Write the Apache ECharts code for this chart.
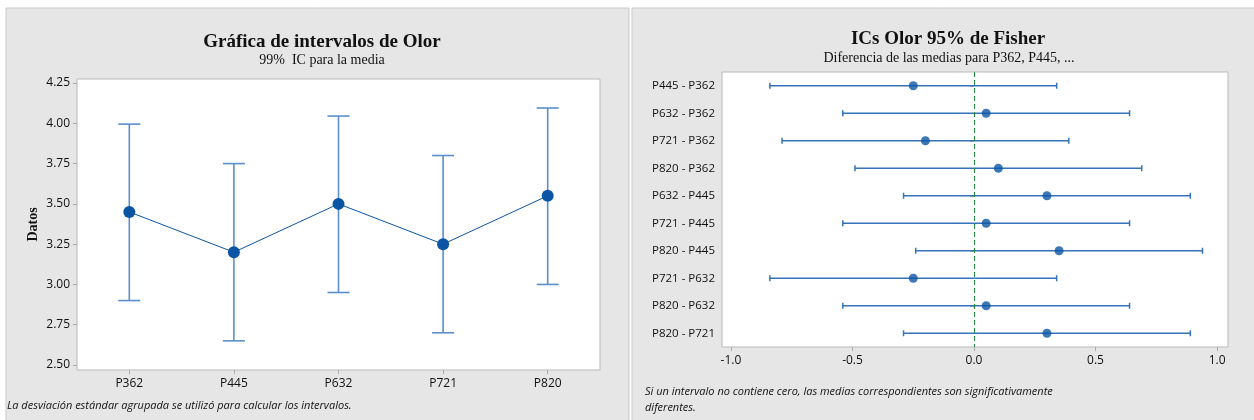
<!DOCTYPE html>
<html>
<head>
<meta charset="utf-8">
<script src="https://cdn.jsdelivr.net/npm/echarts@6/dist/echarts.min.js"></script>
<style>
  html, body { margin: 0; padding: 0; background: #ffffff; }
  #chart { width: 1254px; height: 420px; }
</style>
</head>
<body>
<div id="chart"></div>
<script>
// Interval plot: 99% CI for the mean of Olor by product
const products = ['P362', 'P445', 'P632', 'P721', 'P820'];
const means = [3.45, 3.20, 3.50, 3.25, 3.55];
const lowerCI = [2.90, 2.65, 2.95, 2.70, 3.00];
const upperCI = [3.995, 3.75, 4.045, 3.80, 4.095];
const meanTicks = [2.50, 2.75, 3.00, 3.25, 3.50, 3.75, 4.00, 4.25];

// Fisher 95% intervals for differences of means
const pairs = ['P445 - P362', 'P632 - P362', 'P721 - P362', 'P820 - P362', 'P632 - P445',
               'P721 - P445', 'P820 - P445', 'P721 - P632', 'P820 - P632', 'P820 - P721'];
const diffs = [-0.25, 0.05, -0.20, 0.10, 0.30, 0.05, 0.35, -0.25, 0.05, 0.30];
const diffLower = [-0.84, -0.54, -0.79, -0.49, -0.29, -0.54, -0.24, -0.84, -0.54, -0.29];
const diffUpper = [0.34, 0.64, 0.39, 0.69, 0.89, 0.64, 0.94, 0.34, 0.64, 0.89];
const diffTicks = [-1.0, -0.5, 0.0, 0.5, 1.0];

const sans = '"Open Sans", "Noto Sans", sans-serif';
const serif = '"Liberation Serif", "DejaVu Serif", serif';
const barColor = '#5b8fcb';
const markColor = '#0b55a4';
const diffColor = '#3473ba';

const chart = echarts.init(document.getElementById('chart'), null, { renderer: 'canvas' });

// vertical error bar with horizontal caps (left panel)
function vBar(params, api) {
  const x = api.value(0);
  const lo = api.coord([x, api.value(1)]);
  const hi = api.coord([x, api.value(2)]);
  const w = 11;
  const style = { stroke: barColor, lineWidth: 1.6 };
  return {
    type: 'group',
    children: [
      { type: 'line', shape: { x1: lo[0], y1: lo[1], x2: hi[0], y2: hi[1] }, style },
      { type: 'line', shape: { x1: lo[0] - w, y1: lo[1], x2: lo[0] + w, y2: lo[1] }, style },
      { type: 'line', shape: { x1: hi[0] - w, y1: hi[1], x2: hi[0] + w, y2: hi[1] }, style }
    ]
  };
}

// horizontal interval with small end ticks (right panel)
function hBar(params, api) {
  const y = api.value(0);
  const lo = api.coord([api.value(1), y]);
  const hi = api.coord([api.value(2), y]);
  const h = 3;
  const style = { stroke: diffColor, lineWidth: 1.5 };
  return {
    type: 'group',
    children: [
      { type: 'line', shape: { x1: lo[0], y1: lo[1], x2: hi[0], y2: hi[1] }, style },
      { type: 'line', shape: { x1: lo[0], y1: lo[1] - h, x2: lo[0], y2: lo[1] + h }, style },
      { type: 'line', shape: { x1: hi[0], y1: hi[1] - h, x2: hi[0], y2: hi[1] + h }, style }
    ]
  };
}

const axisLabelStyle = { color: '#111', fontFamily: sans, fontSize: 12 };

const option = {
  animation: false,
  backgroundColor: '#ffffff',
  title: [
    { text: 'Gráfica de intervalos de Olor', left: 317, top: 28, textAlign: 'center',
      textStyle: { fontFamily: serif, fontWeight: 'bold', fontSize: 19, color: '#111' } },
    { text: '99%  IC para la media', left: 317, top: 48, textAlign: 'center',
      textStyle: { fontFamily: serif, fontWeight: 'normal', fontSize: 14, color: '#111' } },
    { text: 'ICs Olor 95% de Fisher', left: 943, top: 25, textAlign: 'center',
      textStyle: { fontFamily: serif, fontWeight: 'bold', fontSize: 19, color: '#111' } },
    { text: 'Diferencia de las medias para P362, P445, ...', left: 944, top: 46, textAlign: 'center',
      textStyle: { fontFamily: serif, fontWeight: 'normal', fontSize: 14, color: '#111' } }
  ],
  graphic: [
    { type: 'rect', z: -100, shape: { x: 6, y: 8, width: 623, height: 420 },
      style: { fill: '#e6e6e6', stroke: '#c9c9c9', lineWidth: 1 } },
    { type: 'rect', z: -100, shape: { x: 632, y: 8, width: 630, height: 420 },
      style: { fill: '#e6e6e6', stroke: '#c9c9c9', lineWidth: 1 } },
    { type: 'text', left: 7, top: 400,
      style: { text: 'La desviación estándar agrupada se utilizó para calcular los intervalos.',
               fill: '#111', font: 'italic 11px ' + sans } },
    { type: 'text', left: 645, top: 386,
      style: { text: 'Si un intervalo no contiene cero, las medias correspondientes son significativamente',
               fill: '#111', font: 'italic 11px ' + sans } },
    { type: 'text', left: 645, top: 402,
      style: { text: 'diferentes.', fill: '#111', font: 'italic 11px ' + sans } }
  ],
  grid: [
    { left: 77, top: 79, width: 523, height: 291, show: true,
      backgroundColor: '#ffffff', borderColor: '#b9b9b9', borderWidth: 1 },
    { left: 722, top: 72, width: 506, height: 275, show: true,
      backgroundColor: '#ffffff', borderColor: '#b9b9b9', borderWidth: 1 }
  ],
  xAxis: [
    { type: 'category', gridIndex: 0, data: products,
      axisLine: { show: false },
      axisTick: { show: true, alignWithLabel: true, length: 4, lineStyle: { color: '#aaa' } },
      axisLabel: Object.assign({ margin: 8 }, axisLabelStyle),
      splitLine: { show: false } },
    { type: 'value', gridIndex: 1, min: -1.037, max: 1.045,
      axisLine: { show: false },
      axisTick: { show: true, length: 4, customValues: diffTicks, lineStyle: { color: '#aaa' } },
      axisLabel: Object.assign({ margin: 8, customValues: diffTicks,
                                 formatter: v => v.toFixed(1) }, axisLabelStyle),
      splitLine: { show: false } }
  ],
  yAxis: [
    { type: 'value', gridIndex: 0, min: 2.469, max: 4.275,
      name: 'Datos', nameLocation: 'middle', nameRotate: 90, nameGap: 37,
      nameTextStyle: { fontFamily: serif, fontWeight: 'bold', fontSize: 14, color: '#111' },
      axisLine: { show: false },
      axisTick: { show: true, length: 4, customValues: meanTicks, lineStyle: { color: '#aaa' } },
      axisLabel: Object.assign({ margin: 7, customValues: meanTicks,
                                 formatter: v => v.toFixed(2) }, axisLabelStyle),
      splitLine: { show: false } },
    { type: 'category', gridIndex: 1, data: pairs, inverse: true,
      axisLine: { show: false },
      axisTick: { show: true, alignWithLabel: true, length: 4, lineStyle: { color: '#aaa' } },
      axisLabel: Object.assign({ margin: 7 }, axisLabelStyle, { fontSize: 11.5 }),
      splitLine: { show: false } }
  ],
  series: [
    { type: 'custom', xAxisIndex: 0, yAxisIndex: 0, renderItem: vBar,
      encode: { x: 0, y: [1, 2] },
      data: products.map((p, i) => [i, lowerCI[i], upperCI[i]]), z: 2 },
    { type: 'line', xAxisIndex: 0, yAxisIndex: 0, data: means,
      symbol: 'circle', symbolSize: 12,
      lineStyle: { color: markColor, width: 1 },
      itemStyle: { color: markColor }, z: 3 },
    { type: 'custom', xAxisIndex: 1, yAxisIndex: 1, renderItem: hBar,
      encode: { y: 0, x: [1, 2] },
      data: pairs.map((p, i) => [i, diffLower[i], diffUpper[i]]), z: 2 },
    { type: 'scatter', xAxisIndex: 1, yAxisIndex: 1,
      data: pairs.map((p, i) => [diffs[i], i]),
      symbol: 'circle', symbolSize: 9,
      itemStyle: { color: markColor }, z: 4,
      markLine: {
        silent: true, symbol: 'none', label: { show: false },
        lineStyle: { color: '#1f8a3a', type: [5, 3], width: 1 },
        data: [{ xAxis: 0 }]
      } }
  ]
};

chart.setOption(option);
</script>
</body>
</html>
